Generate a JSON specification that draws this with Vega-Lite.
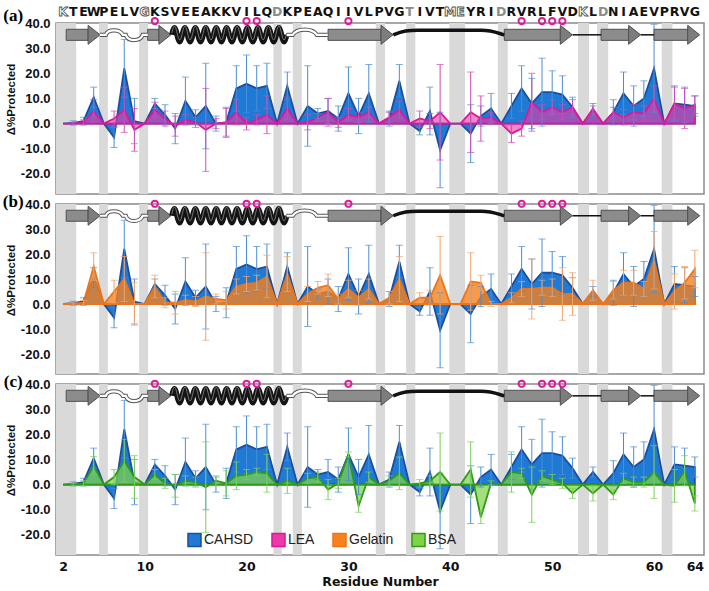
{
"$schema": "https://vega.github.io/schema/vega-lite/v6.json",
"padding": {"left": 2, "top": 5, "right": 4, "bottom": 4},
"spacing": 10,
"bounds": "flush",
"config": {
  "view": {"stroke": "#8a8a8a", "strokeWidth": 1.5},
  "axis": {"domain": false, "ticks": false, "grid": false, "labelOverlap": false, "labelFont": "Liberation Sans", "labelFontWeight": "bold", "labelColor": "#111", "titleColor": "#111"}
},
"resolve": {"scale": {"fill": "independent", "stroke": "independent", "shape": "independent"}, "legend": {"fill": "independent", "stroke": "independent"}},
"datasets": {
  "res": [
    {"r":2,"cahsd":0,"cahsd_sd":0,"lea":0,"lea_sd":0,"gelatin":0,"gelatin_sd":0,"bsa":0,"bsa_sd":0},
    {"r":3,"cahsd":0.3,"cahsd_sd":0.8,"lea":0,"lea_sd":0.5,"gelatin":0,"gelatin_sd":0.5,"bsa":0,"bsa_sd":0.5},
    {"r":4,"cahsd":1,"cahsd_sd":1.5,"lea":0.5,"lea_sd":1,"gelatin":0.5,"gelatin_sd":1,"bsa":0.5,"bsa_sd":1},
    {"r":5,"cahsd":10.5,"cahsd_sd":4,"lea":5,"lea_sd":4.5,"gelatin":15,"gelatin_sd":5.5,"bsa":7.5,"bsa_sd":3.7},
    {"r":6,"cahsd":0,"cahsd_sd":0,"lea":0,"lea_sd":0,"gelatin":0,"gelatin_sd":0,"bsa":0,"bsa_sd":0},
    {"r":7,"cahsd":-5.5,"cahsd_sd":4,"lea":2,"lea_sd":3,"gelatin":5,"gelatin_sd":4.5,"bsa":3,"bsa_sd":3},
    {"r":8,"cahsd":22,"cahsd_sd":11.5,"lea":5.5,"lea_sd":9,"gelatin":10,"gelatin_sd":9,"bsa":9.5,"bsa_sd":8.5},
    {"r":9,"cahsd":1,"cahsd_sd":9,"lea":-2.5,"lea_sd":8.5,"gelatin":0,"gelatin_sd":8.5,"bsa":3,"bsa_sd":8.5},
    {"r":10,"cahsd":0,"cahsd_sd":0,"lea":0,"lea_sd":0,"gelatin":0,"gelatin_sd":0,"bsa":0,"bsa_sd":0},
    {"r":11,"cahsd":8,"cahsd_sd":2,"lea":5.5,"lea_sd":3,"gelatin":7,"gelatin_sd":4.5,"bsa":4,"bsa_sd":2},
    {"r":12,"cahsd":3.5,"cahsd_sd":4,"lea":2,"lea_sd":3,"gelatin":0.5,"gelatin_sd":2,"bsa":0.5,"bsa_sd":2},
    {"r":13,"cahsd":-2,"cahsd_sd":6,"lea":-1,"lea_sd":4,"gelatin":0.5,"gelatin_sd":4.5,"bsa":-0.5,"bsa_sd":4.5},
    {"r":14,"cahsd":9,"cahsd_sd":9.5,"lea":1.5,"lea_sd":2,"gelatin":1.5,"gelatin_sd":2,"bsa":1.5,"bsa_sd":2},
    {"r":15,"cahsd":2.5,"cahsd_sd":3,"lea":0.5,"lea_sd":2,"gelatin":1,"gelatin_sd":2,"bsa":1,"bsa_sd":2},
    {"r":16,"cahsd":7,"cahsd_sd":17,"lea":-2.5,"lea_sd":16.5,"gelatin":3,"gelatin_sd":17.5,"bsa":-1,"bsa_sd":18},
    {"r":17,"cahsd":0,"cahsd_sd":3,"lea":0,"lea_sd":2,"gelatin":2,"gelatin_sd":2,"bsa":1.5,"bsa_sd":2},
    {"r":18,"cahsd":0.5,"cahsd_sd":6,"lea":0.5,"lea_sd":5.5,"gelatin":1.5,"gelatin_sd":3.5,"bsa":0.5,"bsa_sd":5},
    {"r":19,"cahsd":14,"cahsd_sd":9,"lea":4.5,"lea_sd":5,"gelatin":7,"gelatin_sd":3,"bsa":3.5,"bsa_sd":5.5},
    {"r":20,"cahsd":15.8,"cahsd_sd":11.5,"lea":0,"lea_sd":2.5,"gelatin":8,"gelatin_sd":3,"bsa":4,"bsa_sd":2},
    {"r":21,"cahsd":14,"cahsd_sd":9,"lea":1.5,"lea_sd":2,"gelatin":8.5,"gelatin_sd":3,"bsa":5,"bsa_sd":1.5},
    {"r":22,"cahsd":15,"cahsd_sd":9,"lea":3.5,"lea_sd":7.5,"gelatin":11,"gelatin_sd":8.5,"bsa":4.5,"bsa_sd":7.5},
    {"r":23,"cahsd":0,"cahsd_sd":0,"lea":0,"lea_sd":0,"gelatin":0,"gelatin_sd":0,"bsa":0,"bsa_sd":0},
    {"r":24,"cahsd":15,"cahsd_sd":5.5,"lea":6,"lea_sd":4.5,"gelatin":12,"gelatin_sd":7,"bsa":1.5,"bsa_sd":5},
    {"r":25,"cahsd":0,"cahsd_sd":0,"lea":0,"lea_sd":0,"gelatin":0,"gelatin_sd":0,"bsa":0,"bsa_sd":0},
    {"r":26,"cahsd":7,"cahsd_sd":16,"lea":0.5,"lea_sd":3,"gelatin":4,"gelatin_sd":3,"bsa":2.5,"bsa_sd":2},
    {"r":27,"cahsd":4,"cahsd_sd":2,"lea":2.5,"lea_sd":1.5,"gelatin":6.5,"gelatin_sd":2.5,"bsa":3,"bsa_sd":2},
    {"r":28,"cahsd":5,"cahsd_sd":5,"lea":4.5,"lea_sd":5.5,"gelatin":7.5,"gelatin_sd":4.5,"bsa":-2,"bsa_sd":4},
    {"r":29,"cahsd":2,"cahsd_sd":5,"lea":0.5,"lea_sd":2,"gelatin":2,"gelatin_sd":2,"bsa":0.5,"bsa_sd":2},
    {"r":30,"cahsd":12,"cahsd_sd":10.5,"lea":3.5,"lea_sd":2.5,"gelatin":6,"gelatin_sd":3.5,"bsa":12,"bsa_sd":1},
    {"r":31,"cahsd":3,"cahsd_sd":7,"lea":2.5,"lea_sd":2,"gelatin":2.5,"gelatin_sd":3,"bsa":-8.5,"bsa_sd":2.5},
    {"r":32,"cahsd":12,"cahsd_sd":11.5,"lea":4.5,"lea_sd":2,"gelatin":6,"gelatin_sd":4,"bsa":3,"bsa_sd":2},
    {"r":33,"cahsd":0,"cahsd_sd":0,"lea":0,"lea_sd":0,"gelatin":0,"gelatin_sd":0,"bsa":0,"bsa_sd":0},
    {"r":34,"cahsd":2,"cahsd_sd":3,"lea":2.5,"lea_sd":2,"gelatin":2.5,"gelatin_sd":2.5,"bsa":1.5,"bsa_sd":2},
    {"r":35,"cahsd":17,"cahsd_sd":6.5,"lea":5.5,"lea_sd":3.5,"gelatin":10,"gelatin_sd":9,"bsa":4.5,"bsa_sd":6.5},
    {"r":36,"cahsd":0,"cahsd_sd":0,"lea":0,"lea_sd":0,"gelatin":0,"gelatin_sd":0,"bsa":0,"bsa_sd":0},
    {"r":37,"cahsd":-3,"cahsd_sd":1.5,"lea":2,"lea_sd":3,"gelatin":2.5,"gelatin_sd":2,"bsa":0.5,"bsa_sd":1.5},
    {"r":38,"cahsd":5,"cahsd_sd":9.5,"lea":1,"lea_sd":3,"gelatin":2.5,"gelatin_sd":3,"bsa":1.5,"bsa_sd":2},
    {"r":39,"cahsd":-10.5,"cahsd_sd":15,"lea":4.5,"lea_sd":19,"gelatin":11.5,"gelatin_sd":15.5,"bsa":5,"bsa_sd":15.5},
    {"r":40,"cahsd":0,"cahsd_sd":0,"lea":0,"lea_sd":0,"gelatin":0,"gelatin_sd":0,"bsa":0,"bsa_sd":0},
    {"r":41,"cahsd":0,"cahsd_sd":0,"lea":0,"lea_sd":0,"gelatin":0,"gelatin_sd":0,"bsa":0,"bsa_sd":0},
    {"r":42,"cahsd":-4,"cahsd_sd":11.5,"lea":4.5,"lea_sd":16,"gelatin":9,"gelatin_sd":11.5,"bsa":6,"bsa_sd":11},
    {"r":43,"cahsd":3,"cahsd_sd":4,"lea":2,"lea_sd":9,"gelatin":8.5,"gelatin_sd":3,"bsa":-13,"bsa_sd":2.5},
    {"r":44,"cahsd":6,"cahsd_sd":6,"lea":2.5,"lea_sd":2,"gelatin":0,"gelatin_sd":1,"bsa":0.5,"bsa_sd":1},
    {"r":45,"cahsd":0,"cahsd_sd":0,"lea":0,"lea_sd":0,"gelatin":0,"gelatin_sd":0,"bsa":0,"bsa_sd":0},
    {"r":46,"cahsd":7,"cahsd_sd":5,"lea":-4,"lea_sd":3.5,"gelatin":2.5,"gelatin_sd":2,"bsa":5,"bsa_sd":8},
    {"r":47,"cahsd":14,"cahsd_sd":9,"lea":-2,"lea_sd":3,"gelatin":6,"gelatin_sd":3,"bsa":4.5,"bsa_sd":2},
    {"r":48,"cahsd":8,"cahsd_sd":10,"lea":8.5,"lea_sd":11.5,"gelatin":6,"gelatin_sd":12,"bsa":-4,"bsa_sd":11},
    {"r":49,"cahsd":12.5,"cahsd_sd":13.5,"lea":4.5,"lea_sd":3,"gelatin":6.5,"gelatin_sd":3,"bsa":3.5,"bsa_sd":2},
    {"r":50,"cahsd":12.5,"cahsd_sd":8.5,"lea":6.5,"lea_sd":3,"gelatin":6.5,"gelatin_sd":3.5,"bsa":2,"bsa_sd":2},
    {"r":51,"cahsd":11.5,"cahsd_sd":7.5,"lea":4.5,"lea_sd":3,"gelatin":4,"gelatin_sd":10.5,"bsa":0.5,"bsa_sd":2},
    {"r":52,"cahsd":6.5,"cahsd_sd":4,"lea":6.5,"lea_sd":3,"gelatin":4,"gelatin_sd":8.5,"bsa":-3.5,"bsa_sd":2},
    {"r":53,"cahsd":0,"cahsd_sd":0,"lea":0,"lea_sd":0,"gelatin":0,"gelatin_sd":0,"bsa":0,"bsa_sd":0},
    {"r":54,"cahsd":5,"cahsd_sd":2,"lea":6,"lea_sd":2,"gelatin":5.5,"gelatin_sd":4,"bsa":-3.5,"bsa_sd":3},
    {"r":55,"cahsd":0,"cahsd_sd":0,"lea":0,"lea_sd":0,"gelatin":0,"gelatin_sd":0,"bsa":0,"bsa_sd":0},
    {"r":56,"cahsd":4.5,"cahsd_sd":5,"lea":4.5,"lea_sd":2,"gelatin":5.5,"gelatin_sd":3.5,"bsa":-4,"bsa_sd":2},
    {"r":57,"cahsd":12,"cahsd_sd":8.5,"lea":2.5,"lea_sd":3,"gelatin":8.5,"gelatin_sd":5,"bsa":2.5,"bsa_sd":2},
    {"r":58,"cahsd":7,"cahsd_sd":8,"lea":4.5,"lea_sd":3,"gelatin":8.5,"gelatin_sd":5,"bsa":1,"bsa_sd":2},
    {"r":59,"cahsd":10,"cahsd_sd":7,"lea":4,"lea_sd":3,"gelatin":6,"gelatin_sd":3,"bsa":1,"bsa_sd":2},
    {"r":60,"cahsd":22,"cahsd_sd":17.5,"lea":10,"lea_sd":5,"gelatin":17.5,"gelatin_sd":11.5,"bsa":5,"bsa_sd":10.5},
    {"r":61,"cahsd":0,"cahsd_sd":0,"lea":0,"lea_sd":0,"gelatin":0,"gelatin_sd":0,"bsa":0,"bsa_sd":0},
    {"r":62,"cahsd":8,"cahsd_sd":7,"lea":8,"lea_sd":6.5,"gelatin":5,"gelatin_sd":7,"bsa":-0.5,"bsa_sd":6.5},
    {"r":63,"cahsd":7.5,"cahsd_sd":7,"lea":6,"lea_sd":8,"gelatin":8.5,"gelatin_sd":6.5,"bsa":5.5,"bsa_sd":6},
    {"r":64,"cahsd":7,"cahsd_sd":4,"lea":7.5,"lea_sd":3.5,"gelatin":14,"gelatin_sd":7.5,"bsa":-7.5,"bsa_sd":3}
  ],
  "bands": [{"from":1.3,"to":3.28},{"from":5.53,"to":6.39},{"from":9.46,"to":10.34},{"from":22.64,"to":23.46},{"from":24.54,"to":25.42},{"from":32.69,"to":33.6},{"from":35.66,"to":36.57},{"from":39.9,"to":41.45},{"from":44.66,"to":45.64},{"from":52.54,"to":53.62},{"from":54.4,"to":55.5},{"from":60.75,"to":61.8}],
  "ss": [
    {"element":"strand","from":2.3,"to":4.45},
    {"element":"strand","from":10.3,"to":11.4},
    {"element":"strand","from":28.0,"to":33.2},
    {"element":"strand","from":45.3,"to":50.8},
    {"element":"strand","from":54.8,"to":57.5},
    {"element":"strand","from":60.0,"to":63.3},
    {"element":"helix","from":12.67,"to":23.95},
    {"element":"loop1","from":5.6,"to":10.3},
    {"element":"loop2","from":23.95,"to":28.0},
    {"element":"loop3","from":34.4,"to":45.3},
    {"element":"link","from":52.0,"to":54.8},
    {"element":"link","from":58.7,"to":60.0}
  ],
  "sites": [{"r":11},{"r":20},{"r":21},{"r":30},{"r":47},{"r":49},{"r":50},{"r":51}],
  "seq": [
    {"r":2,"aa":"K","state":"overlapped"},{"r":3,"aa":"T","state":"observed"},{"r":4,"aa":"E","state":"observed"},{"r":5,"aa":"W","state":"observed"},{"r":6,"aa":"P","state":"observed"},{"r":7,"aa":"E","state":"observed"},{"r":8,"aa":"L","state":"observed"},{"r":9,"aa":"V","state":"observed"},{"r":10,"aa":"G","state":"overlapped"},{"r":11,"aa":"K","state":"observed"},{"r":12,"aa":"S","state":"observed"},{"r":13,"aa":"V","state":"observed"},{"r":14,"aa":"E","state":"observed"},{"r":15,"aa":"E","state":"observed"},{"r":16,"aa":"A","state":"observed"},{"r":17,"aa":"K","state":"observed"},{"r":18,"aa":"K","state":"observed"},{"r":19,"aa":"V","state":"observed"},{"r":20,"aa":"I","state":"observed"},{"r":21,"aa":"L","state":"observed"},{"r":22,"aa":"Q","state":"observed"},{"r":23,"aa":"D","state":"unresolved"},{"r":24,"aa":"K","state":"observed"},{"r":25,"aa":"P","state":"observed"},{"r":26,"aa":"E","state":"observed"},{"r":27,"aa":"A","state":"observed"},{"r":28,"aa":"Q","state":"observed"},{"r":29,"aa":"I","state":"observed"},{"r":30,"aa":"I","state":"observed"},{"r":31,"aa":"V","state":"observed"},{"r":32,"aa":"L","state":"observed"},{"r":33,"aa":"P","state":"observed"},{"r":34,"aa":"V","state":"observed"},{"r":35,"aa":"G","state":"observed"},{"r":36,"aa":"T","state":"unresolved"},{"r":37,"aa":"I","state":"observed"},{"r":38,"aa":"V","state":"observed"},{"r":39,"aa":"T","state":"observed"},{"r":40,"aa":"M","state":"overlapped"},{"r":41,"aa":"E","state":"overlapped"},{"r":42,"aa":"Y","state":"observed"},{"r":43,"aa":"R","state":"observed"},{"r":44,"aa":"I","state":"observed"},{"r":45,"aa":"D","state":"unresolved"},{"r":46,"aa":"R","state":"observed"},{"r":47,"aa":"V","state":"observed"},{"r":48,"aa":"R","state":"observed"},{"r":49,"aa":"L","state":"observed"},{"r":50,"aa":"F","state":"observed"},{"r":51,"aa":"V","state":"observed"},{"r":52,"aa":"D","state":"observed"},{"r":53,"aa":"K","state":"overlapped"},{"r":54,"aa":"L","state":"observed"},{"r":55,"aa":"D","state":"unresolved"},{"r":56,"aa":"N","state":"observed"},{"r":57,"aa":"I","state":"observed"},{"r":58,"aa":"A","state":"observed"},{"r":59,"aa":"E","state":"observed"},{"r":60,"aa":"V","state":"observed"},{"r":61,"aa":"P","state":"observed"},{"r":62,"aa":"R","state":"observed"},{"r":63,"aa":"V","state":"observed"},{"r":64,"aa":"G","state":"observed"}
  ]
},
"vconcat": [
{
  "width": 648, "height": 171,
  "layer": [
    {"data": {"name": "bands"}, "mark": {"type": "rect", "fill": "#d9d9d9"},
     "encoding": {"x": {"field": "from", "type": "quantitative", "scale": {"domain": [1.3, 64.9], "nice": false, "zero": false}, "axis": null}, "x2": {"field": "to"},
                  "y": {"datum": 40, "type": "quantitative", "scale": {"domain": [-28, 40], "nice": false, "zero": false}, "title": "\u0394%Protected", "axis": {"values": [-20,-10,0,10,20,30,40], "labelOverlap": false, "labelExpr": "replace(format(datum.value, '.1f'), '\u2212', '-')", "labelFontSize": 13, "labelPadding": 6, "title": "\u0394%Protected", "titleFont": "Liberation Sans", "titleFontWeight": "bold", "titleFontSize": 11.5, "titleX": -40, "titleY": 76, "titleBaseline": "bottom"}}, "y2": {"datum": -28}}},
    {"data": {"name": "res"}, "mark": {"type": "area", "strokeWidth": 1.8, "fillOpacity": 1, "interpolate": "linear"},
     "encoding": {"x": {"field": "r", "type": "quantitative", "axis": null},
                  "y": {"field": "cahsd", "type": "quantitative", "title": "\u0394%Protected", "axis": {"values": [-20,-10,0,10,20,30,40], "labelOverlap": false, "labelExpr": "replace(format(datum.value, '.1f'), '\u2212', '-')", "labelFontSize": 13, "labelPadding": 6, "title": "\u0394%Protected", "titleFont": "Liberation Sans", "titleFontWeight": "bold", "titleFontSize": 11.5, "titleX": -40, "titleY": 76, "titleBaseline": "bottom"}},
                  "fill": {"datum": "CAHSD", "scale": {"domain": ["CAHSD","LEA","Gelatin","BSA"], "range": ["#1f7ad6","#ec3aa6","#f5821e","#7fd24a"]}, "legend": null},
                  "stroke": {"datum": "CAHSD", "scale": {"domain": ["CAHSD","LEA","Gelatin","BSA"], "range": ["#1b4e9e","#e0169a","#ee7416","#2f9a17"]}, "legend": null}}},
    {"data": {"name": "res"}, "mark": {"type": "area", "strokeWidth": 1.8, "fillOpacity": 0.62, "interpolate": "linear"},
     "encoding": {"x": {"field": "r", "type": "quantitative", "axis": null},
                  "y": {"field": "lea", "type": "quantitative", "title": "\u0394%Protected", "axis": {"values": [-20,-10,0,10,20,30,40], "labelOverlap": false, "labelExpr": "replace(format(datum.value, '.1f'), '\u2212', '-')", "labelFontSize": 13, "labelPadding": 6, "title": "\u0394%Protected", "titleFont": "Liberation Sans", "titleFontWeight": "bold", "titleFontSize": 11.5, "titleX": -40, "titleY": 76, "titleBaseline": "bottom"}},
                  "fill": {"datum": "LEA", "legend": null},
                  "stroke": {"datum": "LEA", "legend": null}}},
    {"data": {"name": "res"}, "transform": [{"filter": "datum.cahsd_sd > 0"}], "mark": {"type": "errorbar", "ticks": true, "size": 7, "thickness": 1, "color": "#4a8dd6"},
     "encoding": {"x": {"field": "r", "type": "quantitative", "axis": null}, "y": {"field": "cahsd", "type": "quantitative", "title": "\u0394%Protected", "axis": {"values": [-20,-10,0,10,20,30,40], "labelOverlap": false, "labelExpr": "replace(format(datum.value, '.1f'), '\u2212', '-')", "labelFontSize": 13, "labelPadding": 6, "title": "\u0394%Protected", "titleFont": "Liberation Sans", "titleFontWeight": "bold", "titleFontSize": 11.5, "titleX": -40, "titleY": 76, "titleBaseline": "bottom"}}, "yError": {"field": "cahsd_sd"}}},
    {"data": {"name": "res"}, "transform": [{"filter": "datum.lea_sd > 0"}], "mark": {"type": "errorbar", "ticks": true, "size": 7, "thickness": 1, "color": "#cf4cb6"},
     "encoding": {"x": {"field": "r", "type": "quantitative", "axis": null}, "y": {"field": "lea", "type": "quantitative", "title": "\u0394%Protected", "axis": {"values": [-20,-10,0,10,20,30,40], "labelOverlap": false, "labelExpr": "replace(format(datum.value, '.1f'), '\u2212', '-')", "labelFontSize": 13, "labelPadding": 6, "title": "\u0394%Protected", "titleFont": "Liberation Sans", "titleFontWeight": "bold", "titleFontSize": 11.5, "titleX": -40, "titleY": 76, "titleBaseline": "bottom"}}, "yError": {"field": "lea_sd"}}},
    {"data": {"name": "ss"}, "transform": [{"filter": "datum.element === 'strand'"}], "mark": {"type": "rect", "fill": "#8c8c8c", "stroke": "#505050", "strokeWidth": 1},
     "encoding": {"x": {"field": "from", "type": "quantitative", "axis": null}, "x2": {"field": "to"}, "y": {"datum": 37.5, "type": "quantitative", "title": "\u0394%Protected", "axis": {"values": [-20,-10,0,10,20,30,40], "labelOverlap": false, "labelExpr": "replace(format(datum.value, '.1f'), '\u2212', '-')", "labelFontSize": 13, "labelPadding": 6, "title": "\u0394%Protected", "titleFont": "Liberation Sans", "titleFontWeight": "bold", "titleFontSize": 11.5, "titleX": -40, "titleY": 76, "titleBaseline": "bottom"}}, "y2": {"datum": 33.1}}},
    {"data": {"name": "ss"}, "transform": [{"filter": "datum.element === 'strand'"}], "mark": {"type": "point", "shape": "M0,-9.5L12,0L0,9.5Z", "size": 4, "filled": true, "fill": "#7d7d7d", "stroke": "#505050", "strokeWidth": 1, "opacity": 1},
     "encoding": {"x": {"field": "to", "type": "quantitative", "axis": null}, "y": {"datum": 35.3, "type": "quantitative", "title": "\u0394%Protected", "axis": {"values": [-20,-10,0,10,20,30,40], "labelOverlap": false, "labelExpr": "replace(format(datum.value, '.1f'), '\u2212', '-')", "labelFontSize": 13, "labelPadding": 6, "title": "\u0394%Protected", "titleFont": "Liberation Sans", "titleFontWeight": "bold", "titleFontSize": 11.5, "titleX": -40, "titleY": 76, "titleBaseline": "bottom"}}}},
    {"data": {"name": "ss"}, "transform": [{"filter": "datum.element === 'helix'"}], "mark": {"type": "point", "shape": "M0,0q2.61,-14 5.22,0t5.22,0t5.22,0t5.22,0t5.22,0t5.22,0t5.22,0t5.22,0t5.22,0t5.22,0t5.22,0t5.22,0t5.22,0t5.22,0t5.22,0t5.22,0t5.22,0t5.22,0t5.22,0t5.22,0t5.22,0t5.22,0", "size": 4, "filled": false, "color": "#141414", "strokeWidth": 5.5, "opacity": 1},
     "encoding": {"x": {"field": "from", "type": "quantitative", "axis": null}, "y": {"datum": 35.3, "type": "quantitative", "title": "\u0394%Protected", "axis": {"values": [-20,-10,0,10,20,30,40], "labelOverlap": false, "labelExpr": "replace(format(datum.value, '.1f'), '\u2212', '-')", "labelFontSize": 13, "labelPadding": 6, "title": "\u0394%Protected", "titleFont": "Liberation Sans", "titleFontWeight": "bold", "titleFontSize": 11.5, "titleX": -40, "titleY": 76, "titleBaseline": "bottom"}}}},
    {"data": {"name": "ss"}, "transform": [{"filter": "datum.element === 'helix'"}], "mark": {"type": "point", "shape": "M0,-1.8q2.61,-14 5.22,0t5.22,0t5.22,0t5.22,0t5.22,0t5.22,0t5.22,0t5.22,0t5.22,0t5.22,0t5.22,0t5.22,0t5.22,0t5.22,0t5.22,0t5.22,0t5.22,0t5.22,0t5.22,0t5.22,0t5.22,0t5.22,0", "size": 4, "filled": false, "color": "#7a7a7a", "strokeWidth": 0.9, "opacity": 1},
     "encoding": {"x": {"field": "from", "type": "quantitative", "axis": null}, "y": {"datum": 35.3, "type": "quantitative", "title": "\u0394%Protected", "axis": {"values": [-20,-10,0,10,20,30,40], "labelOverlap": false, "labelExpr": "replace(format(datum.value, '.1f'), '\u2212', '-')", "labelFontSize": 13, "labelPadding": 6, "title": "\u0394%Protected", "titleFont": "Liberation Sans", "titleFontWeight": "bold", "titleFontSize": 11.5, "titleX": -40, "titleY": 76, "titleBaseline": "bottom"}}}},
    {"data": {"name": "ss"}, "transform": [{"filter": "datum.element === 'loop1' || datum.element === 'loop2'"}], "mark": {"type": "point", "size": 4, "filled": false, "color": "#555555", "strokeWidth": 4.2, "opacity": 1},
     "encoding": {"x": {"field": "from", "type": "quantitative", "axis": null}, "y": {"datum": 35.3, "type": "quantitative", "title": "\u0394%Protected", "axis": {"values": [-20,-10,0,10,20,30,40], "labelOverlap": false, "labelExpr": "replace(format(datum.value, '.1f'), '\u2212', '-')", "labelFontSize": 13, "labelPadding": 6, "title": "\u0394%Protected", "titleFont": "Liberation Sans", "titleFontWeight": "bold", "titleFontSize": 11.5, "titleX": -40, "titleY": 76, "titleBaseline": "bottom"}},
                  "shape": {"field": "element", "type": "nominal", "scale": {"domain": ["loop1","loop2"], "range": ["M0,0L6,0C8,-6 20,-6 23,0L26,0C28,7 40,7 43,0L48,0", "M0,0L6,0C10,-7 26,-7 30,0L41,0"]}, "legend": null}}},
    {"data": {"name": "ss"}, "transform": [{"filter": "datum.element === 'loop1' || datum.element === 'loop2'"}], "mark": {"type": "point", "size": 4, "filled": false, "color": "#ffffff", "strokeWidth": 2.2, "opacity": 1},
     "encoding": {"x": {"field": "from", "type": "quantitative", "axis": null}, "y": {"datum": 35.3, "type": "quantitative", "title": "\u0394%Protected", "axis": {"values": [-20,-10,0,10,20,30,40], "labelOverlap": false, "labelExpr": "replace(format(datum.value, '.1f'), '\u2212', '-')", "labelFontSize": 13, "labelPadding": 6, "title": "\u0394%Protected", "titleFont": "Liberation Sans", "titleFontWeight": "bold", "titleFontSize": 11.5, "titleX": -40, "titleY": 76, "titleBaseline": "bottom"}},
                  "shape": {"field": "element", "type": "nominal", "legend": null}}},
    {"data": {"name": "ss"}, "transform": [{"filter": "datum.element === 'loop3'"}], "mark": {"type": "point", "shape": "M0,0C10,-4 15,-4.5 25,-4.5L88,-4.5C98,-4.5 104,-2 111,0", "size": 4, "filled": false, "color": "#111111", "strokeWidth": 3.5, "opacity": 1},
     "encoding": {"x": {"field": "from", "type": "quantitative", "axis": null}, "y": {"datum": 35.3, "type": "quantitative", "title": "\u0394%Protected", "axis": {"values": [-20,-10,0,10,20,30,40], "labelOverlap": false, "labelExpr": "replace(format(datum.value, '.1f'), '\u2212', '-')", "labelFontSize": 13, "labelPadding": 6, "title": "\u0394%Protected", "titleFont": "Liberation Sans", "titleFontWeight": "bold", "titleFontSize": 11.5, "titleX": -40, "titleY": 76, "titleBaseline": "bottom"}}}},
    {"data": {"name": "ss"}, "transform": [{"filter": "datum.element === 'link'"}], "mark": {"type": "rule", "color": "#111111", "strokeWidth": 1.5},
     "encoding": {"x": {"field": "from", "type": "quantitative", "axis": null}, "x2": {"field": "to"}, "y": {"datum": 35.3, "type": "quantitative", "title": "\u0394%Protected", "axis": {"values": [-20,-10,0,10,20,30,40], "labelOverlap": false, "labelExpr": "replace(format(datum.value, '.1f'), '\u2212', '-')", "labelFontSize": 13, "labelPadding": 6, "title": "\u0394%Protected", "titleFont": "Liberation Sans", "titleFontWeight": "bold", "titleFontSize": 11.5, "titleX": -40, "titleY": 76, "titleBaseline": "bottom"}}}},
    {"data": {"name": "sites"}, "mark": {"type": "point", "shape": "circle", "size": 38, "filled": false, "color": "#e3179b", "strokeWidth": 2, "opacity": 1},
     "encoding": {"x": {"field": "r", "type": "quantitative", "axis": null}, "y": {"datum": 40.8, "type": "quantitative", "title": "\u0394%Protected", "axis": {"values": [-20,-10,0,10,20,30,40], "labelOverlap": false, "labelExpr": "replace(format(datum.value, '.1f'), '\u2212', '-')", "labelFontSize": 13, "labelPadding": 6, "title": "\u0394%Protected", "titleFont": "Liberation Sans", "titleFontWeight": "bold", "titleFontSize": 11.5, "titleX": -40, "titleY": 76, "titleBaseline": "bottom"}}}},
    {"data": {"name": "seq"}, "mark": {"type": "text", "font": "DejaVu Sans", "fontWeight": "bold", "fontSize": 12.5, "align": "center", "baseline": "middle", "strokeWidth": 0.9},
     "encoding": {"x": {"field": "r", "type": "quantitative", "axis": null}, "y": {"datum": 44.3, "type": "quantitative", "title": "\u0394%Protected", "axis": {"values": [-20,-10,0,10,20,30,40], "labelOverlap": false, "labelExpr": "replace(format(datum.value, '.1f'), '\u2212', '-')", "labelFontSize": 13, "labelPadding": 6, "title": "\u0394%Protected", "titleFont": "Liberation Sans", "titleFontWeight": "bold", "titleFontSize": 11.5, "titleX": -40, "titleY": 76, "titleBaseline": "bottom"}}, "text": {"field": "aa"},
                  "fill": {"condition": [{"test": "datum.state === 'overlapped'", "value": "#ffffff"}, {"test": "datum.state === 'unresolved'", "value": "#8c8c8c"}], "value": "#111111"},
                  "stroke": {"condition": {"test": "datum.state === 'overlapped'", "value": "#555555"}, "value": null}}},
    {"data": {"values": [{"panel": "(a)"}]}, "mark": {"type": "text", "font": "Liberation Serif", "fontWeight": "bold", "fontSize": 17, "align": "center", "baseline": "middle"},
     "encoding": {"x": {"datum": -2.9, "type": "quantitative", "axis": null}, "y": {"datum": 42.8, "type": "quantitative", "title": "\u0394%Protected", "axis": {"values": [-20,-10,0,10,20,30,40], "labelOverlap": false, "labelExpr": "replace(format(datum.value, '.1f'), '\u2212', '-')", "labelFontSize": 13, "labelPadding": 6, "title": "\u0394%Protected", "titleFont": "Liberation Sans", "titleFontWeight": "bold", "titleFontSize": 11.5, "titleX": -40, "titleY": 76, "titleBaseline": "bottom"}}, "text": {"field": "panel"}}}
  ]
},
{
  "width": 648, "height": 170,
  "layer": [
    {"data": {"name": "bands"}, "mark": {"type": "rect", "fill": "#d9d9d9"},
     "encoding": {"x": {"field": "from", "type": "quantitative", "scale": {"domain": [1.3, 64.9], "nice": false, "zero": false}, "axis": null}, "x2": {"field": "to"},
                  "y": {"datum": 40, "type": "quantitative", "scale": {"domain": [-28, 40], "nice": false, "zero": false}, "title": "\u0394%Protected", "axis": {"values": [-20,-10,0,10,20,30,40], "labelOverlap": false, "labelExpr": "replace(format(datum.value, '.1f'), '\u2212', '-')", "labelFontSize": 13, "labelPadding": 6, "title": "\u0394%Protected", "titleFont": "Liberation Sans", "titleFontWeight": "bold", "titleFontSize": 11.5, "titleX": -40, "titleY": 76, "titleBaseline": "bottom"}}, "y2": {"datum": -28}}},
    {"data": {"name": "res"}, "mark": {"type": "area", "strokeWidth": 1.8, "fillOpacity": 1, "interpolate": "linear"},
     "encoding": {"x": {"field": "r", "type": "quantitative", "axis": null},
                  "y": {"field": "cahsd", "type": "quantitative", "title": "\u0394%Protected", "axis": {"values": [-20,-10,0,10,20,30,40], "labelOverlap": false, "labelExpr": "replace(format(datum.value, '.1f'), '\u2212', '-')", "labelFontSize": 13, "labelPadding": 6, "title": "\u0394%Protected", "titleFont": "Liberation Sans", "titleFontWeight": "bold", "titleFontSize": 11.5, "titleX": -40, "titleY": 76, "titleBaseline": "bottom"}},
                  "fill": {"datum": "CAHSD", "scale": {"domain": ["CAHSD","LEA","Gelatin","BSA"], "range": ["#1f7ad6","#ec3aa6","#f5821e","#7fd24a"]}, "legend": null},
                  "stroke": {"datum": "CAHSD", "scale": {"domain": ["CAHSD","LEA","Gelatin","BSA"], "range": ["#1b4e9e","#e0169a","#ee7416","#2f9a17"]}, "legend": null}}},
    {"data": {"name": "res"}, "mark": {"type": "area", "strokeWidth": 1.8, "fillOpacity": 0.8, "interpolate": "linear"},
     "encoding": {"x": {"field": "r", "type": "quantitative", "axis": null},
                  "y": {"field": "gelatin", "type": "quantitative", "title": "\u0394%Protected", "axis": {"values": [-20,-10,0,10,20,30,40], "labelOverlap": false, "labelExpr": "replace(format(datum.value, '.1f'), '\u2212', '-')", "labelFontSize": 13, "labelPadding": 6, "title": "\u0394%Protected", "titleFont": "Liberation Sans", "titleFontWeight": "bold", "titleFontSize": 11.5, "titleX": -40, "titleY": 76, "titleBaseline": "bottom"}},
                  "fill": {"datum": "Gelatin", "legend": null},
                  "stroke": {"datum": "Gelatin", "legend": null}}},
    {"data": {"name": "res"}, "transform": [{"filter": "datum.cahsd_sd > 0"}], "mark": {"type": "errorbar", "ticks": true, "size": 7, "thickness": 1, "color": "#4a8dd6"},
     "encoding": {"x": {"field": "r", "type": "quantitative", "axis": null}, "y": {"field": "cahsd", "type": "quantitative", "title": "\u0394%Protected", "axis": {"values": [-20,-10,0,10,20,30,40], "labelOverlap": false, "labelExpr": "replace(format(datum.value, '.1f'), '\u2212', '-')", "labelFontSize": 13, "labelPadding": 6, "title": "\u0394%Protected", "titleFont": "Liberation Sans", "titleFontWeight": "bold", "titleFontSize": 11.5, "titleX": -40, "titleY": 76, "titleBaseline": "bottom"}}, "yError": {"field": "cahsd_sd"}}},
    {"data": {"name": "res"}, "transform": [{"filter": "datum.gelatin_sd > 0"}], "mark": {"type": "errorbar", "ticks": true, "size": 7, "thickness": 1, "color": "#f0a46a"},
     "encoding": {"x": {"field": "r", "type": "quantitative", "axis": null}, "y": {"field": "gelatin", "type": "quantitative", "title": "\u0394%Protected", "axis": {"values": [-20,-10,0,10,20,30,40], "labelOverlap": false, "labelExpr": "replace(format(datum.value, '.1f'), '\u2212', '-')", "labelFontSize": 13, "labelPadding": 6, "title": "\u0394%Protected", "titleFont": "Liberation Sans", "titleFontWeight": "bold", "titleFontSize": 11.5, "titleX": -40, "titleY": 76, "titleBaseline": "bottom"}}, "yError": {"field": "gelatin_sd"}}},
    {"data": {"name": "ss"}, "transform": [{"filter": "datum.element === 'strand'"}], "mark": {"type": "rect", "fill": "#8c8c8c", "stroke": "#505050", "strokeWidth": 1},
     "encoding": {"x": {"field": "from", "type": "quantitative", "axis": null}, "x2": {"field": "to"}, "y": {"datum": 37.5, "type": "quantitative", "title": "\u0394%Protected", "axis": {"values": [-20,-10,0,10,20,30,40], "labelOverlap": false, "labelExpr": "replace(format(datum.value, '.1f'), '\u2212', '-')", "labelFontSize": 13, "labelPadding": 6, "title": "\u0394%Protected", "titleFont": "Liberation Sans", "titleFontWeight": "bold", "titleFontSize": 11.5, "titleX": -40, "titleY": 76, "titleBaseline": "bottom"}}, "y2": {"datum": 33.1}}},
    {"data": {"name": "ss"}, "transform": [{"filter": "datum.element === 'strand'"}], "mark": {"type": "point", "shape": "M0,-9.5L12,0L0,9.5Z", "size": 4, "filled": true, "fill": "#7d7d7d", "stroke": "#505050", "strokeWidth": 1, "opacity": 1},
     "encoding": {"x": {"field": "to", "type": "quantitative", "axis": null}, "y": {"datum": 35.3, "type": "quantitative", "title": "\u0394%Protected", "axis": {"values": [-20,-10,0,10,20,30,40], "labelOverlap": false, "labelExpr": "replace(format(datum.value, '.1f'), '\u2212', '-')", "labelFontSize": 13, "labelPadding": 6, "title": "\u0394%Protected", "titleFont": "Liberation Sans", "titleFontWeight": "bold", "titleFontSize": 11.5, "titleX": -40, "titleY": 76, "titleBaseline": "bottom"}}}},
    {"data": {"name": "ss"}, "transform": [{"filter": "datum.element === 'helix'"}], "mark": {"type": "point", "shape": "M0,0q2.61,-14 5.22,0t5.22,0t5.22,0t5.22,0t5.22,0t5.22,0t5.22,0t5.22,0t5.22,0t5.22,0t5.22,0t5.22,0t5.22,0t5.22,0t5.22,0t5.22,0t5.22,0t5.22,0t5.22,0t5.22,0t5.22,0t5.22,0", "size": 4, "filled": false, "color": "#141414", "strokeWidth": 5.5, "opacity": 1},
     "encoding": {"x": {"field": "from", "type": "quantitative", "axis": null}, "y": {"datum": 35.3, "type": "quantitative", "title": "\u0394%Protected", "axis": {"values": [-20,-10,0,10,20,30,40], "labelOverlap": false, "labelExpr": "replace(format(datum.value, '.1f'), '\u2212', '-')", "labelFontSize": 13, "labelPadding": 6, "title": "\u0394%Protected", "titleFont": "Liberation Sans", "titleFontWeight": "bold", "titleFontSize": 11.5, "titleX": -40, "titleY": 76, "titleBaseline": "bottom"}}}},
    {"data": {"name": "ss"}, "transform": [{"filter": "datum.element === 'helix'"}], "mark": {"type": "point", "shape": "M0,-1.8q2.61,-14 5.22,0t5.22,0t5.22,0t5.22,0t5.22,0t5.22,0t5.22,0t5.22,0t5.22,0t5.22,0t5.22,0t5.22,0t5.22,0t5.22,0t5.22,0t5.22,0t5.22,0t5.22,0t5.22,0t5.22,0t5.22,0t5.22,0", "size": 4, "filled": false, "color": "#7a7a7a", "strokeWidth": 0.9, "opacity": 1},
     "encoding": {"x": {"field": "from", "type": "quantitative", "axis": null}, "y": {"datum": 35.3, "type": "quantitative", "title": "\u0394%Protected", "axis": {"values": [-20,-10,0,10,20,30,40], "labelOverlap": false, "labelExpr": "replace(format(datum.value, '.1f'), '\u2212', '-')", "labelFontSize": 13, "labelPadding": 6, "title": "\u0394%Protected", "titleFont": "Liberation Sans", "titleFontWeight": "bold", "titleFontSize": 11.5, "titleX": -40, "titleY": 76, "titleBaseline": "bottom"}}}},
    {"data": {"name": "ss"}, "transform": [{"filter": "datum.element === 'loop1' || datum.element === 'loop2'"}], "mark": {"type": "point", "size": 4, "filled": false, "color": "#555555", "strokeWidth": 4.2, "opacity": 1},
     "encoding": {"x": {"field": "from", "type": "quantitative", "axis": null}, "y": {"datum": 35.3, "type": "quantitative", "title": "\u0394%Protected", "axis": {"values": [-20,-10,0,10,20,30,40], "labelOverlap": false, "labelExpr": "replace(format(datum.value, '.1f'), '\u2212', '-')", "labelFontSize": 13, "labelPadding": 6, "title": "\u0394%Protected", "titleFont": "Liberation Sans", "titleFontWeight": "bold", "titleFontSize": 11.5, "titleX": -40, "titleY": 76, "titleBaseline": "bottom"}},
                  "shape": {"field": "element", "type": "nominal", "scale": {"domain": ["loop1","loop2"], "range": ["M0,0L6,0C8,-6 20,-6 23,0L26,0C28,7 40,7 43,0L48,0", "M0,0L6,0C10,-7 26,-7 30,0L41,0"]}, "legend": null}}},
    {"data": {"name": "ss"}, "transform": [{"filter": "datum.element === 'loop1' || datum.element === 'loop2'"}], "mark": {"type": "point", "size": 4, "filled": false, "color": "#ffffff", "strokeWidth": 2.2, "opacity": 1},
     "encoding": {"x": {"field": "from", "type": "quantitative", "axis": null}, "y": {"datum": 35.3, "type": "quantitative", "title": "\u0394%Protected", "axis": {"values": [-20,-10,0,10,20,30,40], "labelOverlap": false, "labelExpr": "replace(format(datum.value, '.1f'), '\u2212', '-')", "labelFontSize": 13, "labelPadding": 6, "title": "\u0394%Protected", "titleFont": "Liberation Sans", "titleFontWeight": "bold", "titleFontSize": 11.5, "titleX": -40, "titleY": 76, "titleBaseline": "bottom"}},
                  "shape": {"field": "element", "type": "nominal", "legend": null}}},
    {"data": {"name": "ss"}, "transform": [{"filter": "datum.element === 'loop3'"}], "mark": {"type": "point", "shape": "M0,0C10,-4 15,-4.5 25,-4.5L88,-4.5C98,-4.5 104,-2 111,0", "size": 4, "filled": false, "color": "#111111", "strokeWidth": 3.5, "opacity": 1},
     "encoding": {"x": {"field": "from", "type": "quantitative", "axis": null}, "y": {"datum": 35.3, "type": "quantitative", "title": "\u0394%Protected", "axis": {"values": [-20,-10,0,10,20,30,40], "labelOverlap": false, "labelExpr": "replace(format(datum.value, '.1f'), '\u2212', '-')", "labelFontSize": 13, "labelPadding": 6, "title": "\u0394%Protected", "titleFont": "Liberation Sans", "titleFontWeight": "bold", "titleFontSize": 11.5, "titleX": -40, "titleY": 76, "titleBaseline": "bottom"}}}},
    {"data": {"name": "ss"}, "transform": [{"filter": "datum.element === 'link'"}], "mark": {"type": "rule", "color": "#111111", "strokeWidth": 1.5},
     "encoding": {"x": {"field": "from", "type": "quantitative", "axis": null}, "x2": {"field": "to"}, "y": {"datum": 35.3, "type": "quantitative", "title": "\u0394%Protected", "axis": {"values": [-20,-10,0,10,20,30,40], "labelOverlap": false, "labelExpr": "replace(format(datum.value, '.1f'), '\u2212', '-')", "labelFontSize": 13, "labelPadding": 6, "title": "\u0394%Protected", "titleFont": "Liberation Sans", "titleFontWeight": "bold", "titleFontSize": 11.5, "titleX": -40, "titleY": 76, "titleBaseline": "bottom"}}}},
    {"data": {"name": "sites"}, "mark": {"type": "point", "shape": "circle", "size": 38, "filled": false, "color": "#e3179b", "strokeWidth": 2, "opacity": 1},
     "encoding": {"x": {"field": "r", "type": "quantitative", "axis": null}, "y": {"datum": 40.1, "type": "quantitative", "title": "\u0394%Protected", "axis": {"values": [-20,-10,0,10,20,30,40], "labelOverlap": false, "labelExpr": "replace(format(datum.value, '.1f'), '\u2212', '-')", "labelFontSize": 13, "labelPadding": 6, "title": "\u0394%Protected", "titleFont": "Liberation Sans", "titleFontWeight": "bold", "titleFontSize": 11.5, "titleX": -40, "titleY": 76, "titleBaseline": "bottom"}}}},
    {"data": {"values": [{"panel": "(b)"}]}, "mark": {"type": "text", "font": "Liberation Serif", "fontWeight": "bold", "fontSize": 17, "align": "center", "baseline": "middle"},
     "encoding": {"x": {"datum": -2.9, "type": "quantitative", "axis": null}, "y": {"datum": 40.8, "type": "quantitative", "title": "\u0394%Protected", "axis": {"values": [-20,-10,0,10,20,30,40], "labelOverlap": false, "labelExpr": "replace(format(datum.value, '.1f'), '\u2212', '-')", "labelFontSize": 13, "labelPadding": 6, "title": "\u0394%Protected", "titleFont": "Liberation Sans", "titleFontWeight": "bold", "titleFontSize": 11.5, "titleX": -40, "titleY": 76, "titleBaseline": "bottom"}}, "text": {"field": "panel"}}}
  ]
},
{
  "width": 648, "height": 171,
  "layer": [
    {"data": {"name": "bands"}, "mark": {"type": "rect", "fill": "#d9d9d9"},
     "encoding": {"x": {"field": "from", "type": "quantitative", "scale": {"domain": [1.3, 64.9], "nice": false, "zero": false}, "title": "Residue Number", "axis": {"values": [2,10,20,30,40,50,60,64], "labelOverlap": false, "title": "Residue Number", "labelFont": "DejaVu Sans", "labelFontSize": 12.5, "labelPadding": 5, "titleFont": "DejaVu Sans", "titleFontSize": 12.5, "titleFontWeight": "bold", "titlePadding": 3}}, "x2": {"field": "to"},
                  "y": {"datum": 40, "type": "quantitative", "scale": {"domain": [-28, 40], "nice": false, "zero": false}, "title": "\u0394%Protected", "axis": {"values": [-20,-10,0,10,20,30,40], "labelOverlap": false, "labelExpr": "replace(format(datum.value, '.1f'), '\u2212', '-')", "labelFontSize": 13, "labelPadding": 6, "title": "\u0394%Protected", "titleFont": "Liberation Sans", "titleFontWeight": "bold", "titleFontSize": 11.5, "titleX": -40, "titleY": 76, "titleBaseline": "bottom"}}, "y2": {"datum": -28}}},
    {"data": {"name": "res"}, "mark": {"type": "area", "strokeWidth": 1.8, "fillOpacity": 1, "interpolate": "linear"},
     "encoding": {"x": {"field": "r", "type": "quantitative", "title": "Residue Number", "axis": {"values": [2,10,20,30,40,50,60,64], "labelOverlap": false, "title": "Residue Number", "labelFont": "DejaVu Sans", "labelFontSize": 12.5, "labelPadding": 5, "titleFont": "DejaVu Sans", "titleFontSize": 12.5, "titleFontWeight": "bold", "titlePadding": 3}},
                  "y": {"field": "cahsd", "type": "quantitative", "title": "\u0394%Protected", "axis": {"values": [-20,-10,0,10,20,30,40], "labelOverlap": false, "labelExpr": "replace(format(datum.value, '.1f'), '\u2212', '-')", "labelFontSize": 13, "labelPadding": 6, "title": "\u0394%Protected", "titleFont": "Liberation Sans", "titleFontWeight": "bold", "titleFontSize": 11.5, "titleX": -40, "titleY": 76, "titleBaseline": "bottom"}},
                  "fill": {"datum": "CAHSD", "scale": {"domain": ["CAHSD","LEA","Gelatin","BSA"], "range": ["#1f7ad6","#ec3aa6","#f5821e","#7fd24a"]}, "legend": {"orient": "none", "legendX": 131, "legendY": 148, "direction": "horizontal", "columns": 4, "title": null, "symbolType": "square", "symbolSize": 170, "symbolStrokeWidth": 1.5, "symbolOpacity": 1, "labelFont": "Liberation Sans", "labelFontSize": 14, "labelFontWeight": "normal", "labelOffset": 2, "columnPadding": 14, "labelColor": "#222222"}},
                  "stroke": {"datum": "CAHSD", "scale": {"domain": ["CAHSD","LEA","Gelatin","BSA"], "range": ["#1b4e9e","#e0169a","#ee7416","#2f9a17"]}, "legend": {"orient": "none", "legendX": 131, "legendY": 148, "direction": "horizontal", "columns": 4, "title": null, "symbolType": "square", "symbolSize": 170, "symbolStrokeWidth": 1.5, "symbolOpacity": 1, "labelFont": "Liberation Sans", "labelFontSize": 14, "labelFontWeight": "normal", "labelOffset": 2, "columnPadding": 14, "labelColor": "#222222"}}}},
    {"data": {"name": "res"}, "mark": {"type": "area", "strokeWidth": 1.8, "fillOpacity": 0.72, "interpolate": "linear"},
     "encoding": {"x": {"field": "r", "type": "quantitative", "title": "Residue Number", "axis": {"values": [2,10,20,30,40,50,60,64], "labelOverlap": false, "title": "Residue Number", "labelFont": "DejaVu Sans", "labelFontSize": 12.5, "labelPadding": 5, "titleFont": "DejaVu Sans", "titleFontSize": 12.5, "titleFontWeight": "bold", "titlePadding": 3}},
                  "y": {"field": "bsa", "type": "quantitative", "title": "\u0394%Protected", "axis": {"values": [-20,-10,0,10,20,30,40], "labelOverlap": false, "labelExpr": "replace(format(datum.value, '.1f'), '\u2212', '-')", "labelFontSize": 13, "labelPadding": 6, "title": "\u0394%Protected", "titleFont": "Liberation Sans", "titleFontWeight": "bold", "titleFontSize": 11.5, "titleX": -40, "titleY": 76, "titleBaseline": "bottom"}},
                  "fill": {"datum": "BSA"},
                  "stroke": {"datum": "BSA"}}},
    {"data": {"name": "res"}, "transform": [{"filter": "datum.cahsd_sd > 0"}], "mark": {"type": "errorbar", "ticks": true, "size": 7, "thickness": 1, "color": "#4a8dd6"},
     "encoding": {"x": {"field": "r", "type": "quantitative", "title": "Residue Number", "axis": {"values": [2,10,20,30,40,50,60,64], "labelOverlap": false, "title": "Residue Number", "labelFont": "DejaVu Sans", "labelFontSize": 12.5, "labelPadding": 5, "titleFont": "DejaVu Sans", "titleFontSize": 12.5, "titleFontWeight": "bold", "titlePadding": 3}}, "y": {"field": "cahsd", "type": "quantitative", "title": "\u0394%Protected", "axis": {"values": [-20,-10,0,10,20,30,40], "labelOverlap": false, "labelExpr": "replace(format(datum.value, '.1f'), '\u2212', '-')", "labelFontSize": 13, "labelPadding": 6, "title": "\u0394%Protected", "titleFont": "Liberation Sans", "titleFontWeight": "bold", "titleFontSize": 11.5, "titleX": -40, "titleY": 76, "titleBaseline": "bottom"}}, "yError": {"field": "cahsd_sd"}}},
    {"data": {"name": "res"}, "transform": [{"filter": "datum.bsa_sd > 0"}], "mark": {"type": "errorbar", "ticks": true, "size": 7, "thickness": 1, "color": "#78d055"},
     "encoding": {"x": {"field": "r", "type": "quantitative", "title": "Residue Number", "axis": {"values": [2,10,20,30,40,50,60,64], "labelOverlap": false, "title": "Residue Number", "labelFont": "DejaVu Sans", "labelFontSize": 12.5, "labelPadding": 5, "titleFont": "DejaVu Sans", "titleFontSize": 12.5, "titleFontWeight": "bold", "titlePadding": 3}}, "y": {"field": "bsa", "type": "quantitative", "title": "\u0394%Protected", "axis": {"values": [-20,-10,0,10,20,30,40], "labelOverlap": false, "labelExpr": "replace(format(datum.value, '.1f'), '\u2212', '-')", "labelFontSize": 13, "labelPadding": 6, "title": "\u0394%Protected", "titleFont": "Liberation Sans", "titleFontWeight": "bold", "titleFontSize": 11.5, "titleX": -40, "titleY": 76, "titleBaseline": "bottom"}}, "yError": {"field": "bsa_sd"}}},
    {"data": {"name": "ss"}, "transform": [{"filter": "datum.element === 'strand'"}], "mark": {"type": "rect", "fill": "#8c8c8c", "stroke": "#505050", "strokeWidth": 1},
     "encoding": {"x": {"field": "from", "type": "quantitative", "title": "Residue Number", "axis": {"values": [2,10,20,30,40,50,60,64], "labelOverlap": false, "title": "Residue Number", "labelFont": "DejaVu Sans", "labelFontSize": 12.5, "labelPadding": 5, "titleFont": "DejaVu Sans", "titleFontSize": 12.5, "titleFontWeight": "bold", "titlePadding": 3}}, "x2": {"field": "to"}, "y": {"datum": 37.5, "type": "quantitative", "title": "\u0394%Protected", "axis": {"values": [-20,-10,0,10,20,30,40], "labelOverlap": false, "labelExpr": "replace(format(datum.value, '.1f'), '\u2212', '-')", "labelFontSize": 13, "labelPadding": 6, "title": "\u0394%Protected", "titleFont": "Liberation Sans", "titleFontWeight": "bold", "titleFontSize": 11.5, "titleX": -40, "titleY": 76, "titleBaseline": "bottom"}}, "y2": {"datum": 33.1}}},
    {"data": {"name": "ss"}, "transform": [{"filter": "datum.element === 'strand'"}], "mark": {"type": "point", "shape": "M0,-9.5L12,0L0,9.5Z", "size": 4, "filled": true, "fill": "#7d7d7d", "stroke": "#505050", "strokeWidth": 1, "opacity": 1},
     "encoding": {"x": {"field": "to", "type": "quantitative", "title": "Residue Number", "axis": {"values": [2,10,20,30,40,50,60,64], "labelOverlap": false, "title": "Residue Number", "labelFont": "DejaVu Sans", "labelFontSize": 12.5, "labelPadding": 5, "titleFont": "DejaVu Sans", "titleFontSize": 12.5, "titleFontWeight": "bold", "titlePadding": 3}}, "y": {"datum": 35.3, "type": "quantitative", "title": "\u0394%Protected", "axis": {"values": [-20,-10,0,10,20,30,40], "labelOverlap": false, "labelExpr": "replace(format(datum.value, '.1f'), '\u2212', '-')", "labelFontSize": 13, "labelPadding": 6, "title": "\u0394%Protected", "titleFont": "Liberation Sans", "titleFontWeight": "bold", "titleFontSize": 11.5, "titleX": -40, "titleY": 76, "titleBaseline": "bottom"}}}},
    {"data": {"name": "ss"}, "transform": [{"filter": "datum.element === 'helix'"}], "mark": {"type": "point", "shape": "M0,0q2.61,-14 5.22,0t5.22,0t5.22,0t5.22,0t5.22,0t5.22,0t5.22,0t5.22,0t5.22,0t5.22,0t5.22,0t5.22,0t5.22,0t5.22,0t5.22,0t5.22,0t5.22,0t5.22,0t5.22,0t5.22,0t5.22,0t5.22,0", "size": 4, "filled": false, "color": "#141414", "strokeWidth": 5.5, "opacity": 1},
     "encoding": {"x": {"field": "from", "type": "quantitative", "title": "Residue Number", "axis": {"values": [2,10,20,30,40,50,60,64], "labelOverlap": false, "title": "Residue Number", "labelFont": "DejaVu Sans", "labelFontSize": 12.5, "labelPadding": 5, "titleFont": "DejaVu Sans", "titleFontSize": 12.5, "titleFontWeight": "bold", "titlePadding": 3}}, "y": {"datum": 35.3, "type": "quantitative", "title": "\u0394%Protected", "axis": {"values": [-20,-10,0,10,20,30,40], "labelOverlap": false, "labelExpr": "replace(format(datum.value, '.1f'), '\u2212', '-')", "labelFontSize": 13, "labelPadding": 6, "title": "\u0394%Protected", "titleFont": "Liberation Sans", "titleFontWeight": "bold", "titleFontSize": 11.5, "titleX": -40, "titleY": 76, "titleBaseline": "bottom"}}}},
    {"data": {"name": "ss"}, "transform": [{"filter": "datum.element === 'helix'"}], "mark": {"type": "point", "shape": "M0,-1.8q2.61,-14 5.22,0t5.22,0t5.22,0t5.22,0t5.22,0t5.22,0t5.22,0t5.22,0t5.22,0t5.22,0t5.22,0t5.22,0t5.22,0t5.22,0t5.22,0t5.22,0t5.22,0t5.22,0t5.22,0t5.22,0t5.22,0t5.22,0", "size": 4, "filled": false, "color": "#7a7a7a", "strokeWidth": 0.9, "opacity": 1},
     "encoding": {"x": {"field": "from", "type": "quantitative", "title": "Residue Number", "axis": {"values": [2,10,20,30,40,50,60,64], "labelOverlap": false, "title": "Residue Number", "labelFont": "DejaVu Sans", "labelFontSize": 12.5, "labelPadding": 5, "titleFont": "DejaVu Sans", "titleFontSize": 12.5, "titleFontWeight": "bold", "titlePadding": 3}}, "y": {"datum": 35.3, "type": "quantitative", "title": "\u0394%Protected", "axis": {"values": [-20,-10,0,10,20,30,40], "labelOverlap": false, "labelExpr": "replace(format(datum.value, '.1f'), '\u2212', '-')", "labelFontSize": 13, "labelPadding": 6, "title": "\u0394%Protected", "titleFont": "Liberation Sans", "titleFontWeight": "bold", "titleFontSize": 11.5, "titleX": -40, "titleY": 76, "titleBaseline": "bottom"}}}},
    {"data": {"name": "ss"}, "transform": [{"filter": "datum.element === 'loop1' || datum.element === 'loop2'"}], "mark": {"type": "point", "size": 4, "filled": false, "color": "#555555", "strokeWidth": 4.2, "opacity": 1},
     "encoding": {"x": {"field": "from", "type": "quantitative", "title": "Residue Number", "axis": {"values": [2,10,20,30,40,50,60,64], "labelOverlap": false, "title": "Residue Number", "labelFont": "DejaVu Sans", "labelFontSize": 12.5, "labelPadding": 5, "titleFont": "DejaVu Sans", "titleFontSize": 12.5, "titleFontWeight": "bold", "titlePadding": 3}}, "y": {"datum": 35.3, "type": "quantitative", "title": "\u0394%Protected", "axis": {"values": [-20,-10,0,10,20,30,40], "labelOverlap": false, "labelExpr": "replace(format(datum.value, '.1f'), '\u2212', '-')", "labelFontSize": 13, "labelPadding": 6, "title": "\u0394%Protected", "titleFont": "Liberation Sans", "titleFontWeight": "bold", "titleFontSize": 11.5, "titleX": -40, "titleY": 76, "titleBaseline": "bottom"}},
                  "shape": {"field": "element", "type": "nominal", "scale": {"domain": ["loop1","loop2"], "range": ["M0,0L6,0C8,-6 20,-6 23,0L26,0C28,7 40,7 43,0L48,0", "M0,0L6,0C10,-7 26,-7 30,0L41,0"]}, "legend": null}}},
    {"data": {"name": "ss"}, "transform": [{"filter": "datum.element === 'loop1' || datum.element === 'loop2'"}], "mark": {"type": "point", "size": 4, "filled": false, "color": "#ffffff", "strokeWidth": 2.2, "opacity": 1},
     "encoding": {"x": {"field": "from", "type": "quantitative", "title": "Residue Number", "axis": {"values": [2,10,20,30,40,50,60,64], "labelOverlap": false, "title": "Residue Number", "labelFont": "DejaVu Sans", "labelFontSize": 12.5, "labelPadding": 5, "titleFont": "DejaVu Sans", "titleFontSize": 12.5, "titleFontWeight": "bold", "titlePadding": 3}}, "y": {"datum": 35.3, "type": "quantitative", "title": "\u0394%Protected", "axis": {"values": [-20,-10,0,10,20,30,40], "labelOverlap": false, "labelExpr": "replace(format(datum.value, '.1f'), '\u2212', '-')", "labelFontSize": 13, "labelPadding": 6, "title": "\u0394%Protected", "titleFont": "Liberation Sans", "titleFontWeight": "bold", "titleFontSize": 11.5, "titleX": -40, "titleY": 76, "titleBaseline": "bottom"}},
                  "shape": {"field": "element", "type": "nominal", "legend": null}}},
    {"data": {"name": "ss"}, "transform": [{"filter": "datum.element === 'loop3'"}], "mark": {"type": "point", "shape": "M0,0C10,-4 15,-4.5 25,-4.5L88,-4.5C98,-4.5 104,-2 111,0", "size": 4, "filled": false, "color": "#111111", "strokeWidth": 3.5, "opacity": 1},
     "encoding": {"x": {"field": "from", "type": "quantitative", "title": "Residue Number", "axis": {"values": [2,10,20,30,40,50,60,64], "labelOverlap": false, "title": "Residue Number", "labelFont": "DejaVu Sans", "labelFontSize": 12.5, "labelPadding": 5, "titleFont": "DejaVu Sans", "titleFontSize": 12.5, "titleFontWeight": "bold", "titlePadding": 3}}, "y": {"datum": 35.3, "type": "quantitative", "title": "\u0394%Protected", "axis": {"values": [-20,-10,0,10,20,30,40], "labelOverlap": false, "labelExpr": "replace(format(datum.value, '.1f'), '\u2212', '-')", "labelFontSize": 13, "labelPadding": 6, "title": "\u0394%Protected", "titleFont": "Liberation Sans", "titleFontWeight": "bold", "titleFontSize": 11.5, "titleX": -40, "titleY": 76, "titleBaseline": "bottom"}}}},
    {"data": {"name": "ss"}, "transform": [{"filter": "datum.element === 'link'"}], "mark": {"type": "rule", "color": "#111111", "strokeWidth": 1.5},
     "encoding": {"x": {"field": "from", "type": "quantitative", "title": "Residue Number", "axis": {"values": [2,10,20,30,40,50,60,64], "labelOverlap": false, "title": "Residue Number", "labelFont": "DejaVu Sans", "labelFontSize": 12.5, "labelPadding": 5, "titleFont": "DejaVu Sans", "titleFontSize": 12.5, "titleFontWeight": "bold", "titlePadding": 3}}, "x2": {"field": "to"}, "y": {"datum": 35.3, "type": "quantitative", "title": "\u0394%Protected", "axis": {"values": [-20,-10,0,10,20,30,40], "labelOverlap": false, "labelExpr": "replace(format(datum.value, '.1f'), '\u2212', '-')", "labelFontSize": 13, "labelPadding": 6, "title": "\u0394%Protected", "titleFont": "Liberation Sans", "titleFontWeight": "bold", "titleFontSize": 11.5, "titleX": -40, "titleY": 76, "titleBaseline": "bottom"}}}},
    {"data": {"name": "sites"}, "mark": {"type": "point", "shape": "circle", "size": 38, "filled": false, "color": "#e3179b", "strokeWidth": 2, "opacity": 1},
     "encoding": {"x": {"field": "r", "type": "quantitative", "title": "Residue Number", "axis": {"values": [2,10,20,30,40,50,60,64], "labelOverlap": false, "title": "Residue Number", "labelFont": "DejaVu Sans", "labelFontSize": 12.5, "labelPadding": 5, "titleFont": "DejaVu Sans", "titleFontSize": 12.5, "titleFontWeight": "bold", "titlePadding": 3}}, "y": {"datum": 40.1, "type": "quantitative", "title": "\u0394%Protected", "axis": {"values": [-20,-10,0,10,20,30,40], "labelOverlap": false, "labelExpr": "replace(format(datum.value, '.1f'), '\u2212', '-')", "labelFontSize": 13, "labelPadding": 6, "title": "\u0394%Protected", "titleFont": "Liberation Sans", "titleFontWeight": "bold", "titleFontSize": 11.5, "titleX": -40, "titleY": 76, "titleBaseline": "bottom"}}}},
    {"data": {"values": [{"panel": "(c)"}]}, "mark": {"type": "text", "font": "Liberation Serif", "fontWeight": "bold", "fontSize": 17, "align": "center", "baseline": "middle"},
     "encoding": {"x": {"datum": -2.9, "type": "quantitative", "title": "Residue Number", "axis": {"values": [2,10,20,30,40,50,60,64], "labelOverlap": false, "title": "Residue Number", "labelFont": "DejaVu Sans", "labelFontSize": 12.5, "labelPadding": 5, "titleFont": "DejaVu Sans", "titleFontSize": 12.5, "titleFontWeight": "bold", "titlePadding": 3}}, "y": {"datum": 40.8, "type": "quantitative", "title": "\u0394%Protected", "axis": {"values": [-20,-10,0,10,20,30,40], "labelOverlap": false, "labelExpr": "replace(format(datum.value, '.1f'), '\u2212', '-')", "labelFontSize": 13, "labelPadding": 6, "title": "\u0394%Protected", "titleFont": "Liberation Sans", "titleFontWeight": "bold", "titleFontSize": 11.5, "titleX": -40, "titleY": 76, "titleBaseline": "bottom"}}, "text": {"field": "panel"}}}
  ]
}
]
}
